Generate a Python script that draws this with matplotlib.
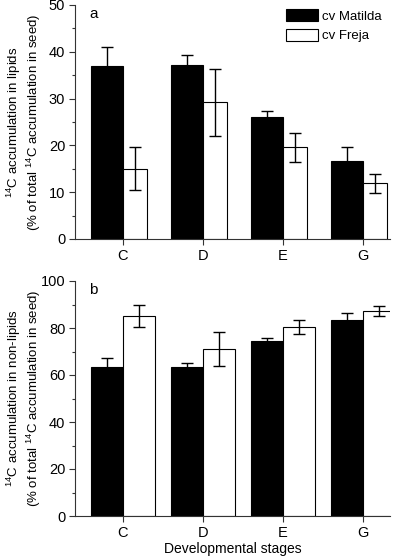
import numpy as np
import matplotlib
matplotlib.use("Agg")
import matplotlib.pyplot as plt
from matplotlib.ticker import MultipleLocator

plt.rcParams["font.family"] = ["Liberation Sans", "DejaVu Sans"]
plt.rcParams["mathtext.fontset"] = "custom"
plt.rcParams["mathtext.rm"] = "Liberation Sans"
plt.rcParams["mathtext.it"] = "Liberation Sans"
plt.rcParams["mathtext.default"] = "regular"

stages = ["C", "D", "E", "G"]
series = ["cv Matilda", "cv Freja"]

lipids_matilda = [37.0, 37.1, 26.0, 16.7]
lipids_matilda_err = [4.0, 2.2, 1.4, 2.9]
lipids_freja = [15.0, 29.2, 19.6, 11.9]
lipids_freja_err = [4.6, 7.2, 3.1, 2.0]

nonlip_matilda = [63.4, 63.2, 74.3, 83.6]
nonlip_matilda_err = [3.8, 2.1, 1.4, 2.8]
nonlip_freja = [85.1, 71.0, 80.5, 87.2]
nonlip_freja_err = [4.8, 7.2, 3.1, 2.1]

W, H = 403, 557
fig = plt.figure(figsize=(W / 100, H / 100), dpi=100)
ax_a = fig.add_axes([75 / W, 318 / H, 315 / W, 234 / H])
ax_b = fig.add_axes([75 / W, 41 / H, 315 / W, 235 / H])

x = np.arange(len(stages))
ekw = dict(ecolor="black", elinewidth=1.0, capsize=4.5, capthick=1.0)


def draw(ax, m, me, f, fe, wf, ymax, major, minor, letter, ylab):
    ax.bar(x - 0.2, m, 0.4, color="black", edgecolor="black", linewidth=0.8,
           yerr=me, error_kw=ekw, label=series[0], zorder=2)
    ax.bar(x + wf / 2, f, wf, color="white", edgecolor="black", linewidth=0.8,
           yerr=fe, error_kw=ekw, label=series[1], zorder=2)
    ax.set_xlim(-0.6, 3.34)
    ax.set_ylim(0, ymax)
    ax.set_xticks(x)
    ax.set_xticklabels(stages)
    ax.yaxis.set_major_locator(MultipleLocator(major))
    ax.yaxis.set_minor_locator(MultipleLocator(minor))
    ax.spines["top"].set_visible(False)
    ax.spines["right"].set_visible(False)
    for s in ("left", "bottom"):
        ax.spines[s].set_linewidth(0.8)
        ax.spines[s].set_color("#333333")
    ax.tick_params(which="major", direction="out", length=4, width=0.8,
                   labelsize=10.5, pad=3, colors="#333333", labelcolor="black")
    ax.tick_params(which="minor", direction="out", length=2.5, width=0.8,
                   colors="#333333")
    ax.tick_params(axis="x", which="minor", bottom=False)
    ax.tick_params(axis="x", pad=3)
    ax.text(0.045, 0.99, letter, transform=ax.transAxes, fontsize=11,
            va="top", ha="left")
    ax.set_ylabel(ylab, fontsize=9.5, linespacing=1.2)
    ax.yaxis.set_label_coords(-0.1, 0.5)


draw(ax_a, lipids_matilda, lipids_matilda_err, lipids_freja, lipids_freja_err,
     0.3, 50, 10, 5, "a",
     "$^{14}$C accumulation in lipids\n(% of total $^{14}$C accumulation in seed)")
draw(ax_b, nonlip_matilda, nonlip_matilda_err, nonlip_freja, nonlip_freja_err,
     0.4, 100, 20, 10, "b",
     "$^{14}$C accumulation in non-lipids\n(% of total $^{14}$C accumulation in seed)")

ax_a.legend(loc="upper right", bbox_to_anchor=(1.0, 1.015), frameon=False,
            fontsize=9.5, handlelength=2.5, handleheight=1.0, handletextpad=0.3,
            labelspacing=0.45, borderaxespad=0.2)
ax_b.set_xlabel("Developmental stages", fontsize=10, labelpad=2)

fig.savefig("out.png", dpi=100)
